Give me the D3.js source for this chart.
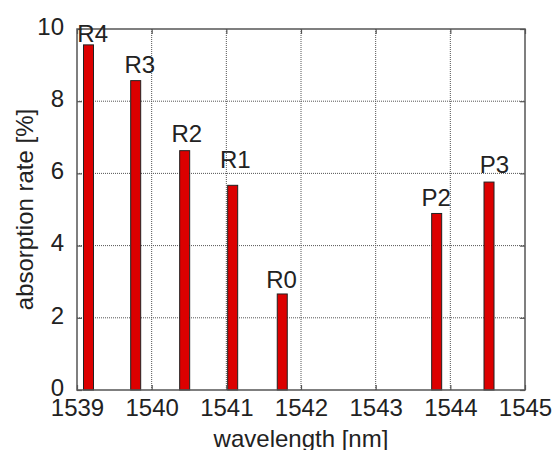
<!DOCTYPE html>
<html lang="en">
<head>
    <meta charset="UTF-8">
    <title>Absorption rate vs wavelength</title>
    <script src="https://d3js.org/d3.v7.min.js"></script>
    <style>
        body { margin: 0; background: #fff; }
        text { font-family: "Liberation Sans", Arial, sans-serif; fill: #222; }
        .grid line { stroke: #555; stroke-width: 1; stroke-dasharray: 1,1; }
    </style>
</head>
<body>
    <svg width="555" height="450"></svg>

    <script>
        // line names, centre wavelengths [nm] and absorption [%]
        const lineNames = ["R4", "R3", "R2", "R1", "R0", "P2", "P3"];
        const wavelengths = [1539.154, 1539.786, 1540.442, 1541.085, 1541.749, 1543.817, 1544.518];
        const absorption = [9.56, 8.57, 6.63, 5.67, 2.66, 4.89, 5.76];

        // where each text annotation sits (data coords)
        const labelWl = [1539.21, 1539.84, 1540.47, 1541.12, 1541.74, 1543.81, 1544.59];
        const labelVal = [9.64, 8.79, 6.88, 6.15, 2.83, 5.10, 6.01];

        const xTicks = [1539, 1540, 1541, 1542, 1543, 1544, 1545];
        const yTicks = [0, 2, 4, 6, 8, 10];

        const barWidth = 0.134; // nm
        const margin = { top: 29, right: 30, bottom: 60, left: 77 };
        const width = 555 - margin.left - margin.right;
        const height = 450 - margin.top - margin.bottom;

        const svg = d3.select("svg");
        const g = svg.append("g").attr("transform", `translate(${margin.left},${margin.top})`);

        const x = d3.scaleLinear().domain([1539, 1545]).range([0, width]);
        const y = d3.scaleLinear().domain([0, 10]).range([height, 0]);

        // dotted grid
        const grid = g.append("g").attr("class", "grid");
        grid.selectAll(".gx").data(xTicks.slice(1, -1)).enter().append("line")
            .attr("x1", d => x(d)).attr("x2", d => x(d))
            .attr("y1", 0).attr("y2", height);
        grid.selectAll(".gy").data(yTicks.slice(1, -1)).enter().append("line")
            .attr("x1", 0).attr("x2", width)
            .attr("y1", d => y(d)).attr("y2", d => y(d));

        // bars
        g.append("g").selectAll("rect")
            .data(wavelengths)
            .enter().append("rect")
            .attr("x", d => x(d - barWidth / 2))
            .attr("width", x(1539 + barWidth) - x(1539))
            .attr("y", (d, i) => y(absorption[i]))
            .attr("height", (d, i) => height - y(absorption[i]))
            .style("fill", "#dc0000")
            .style("stroke", "#222")
            .style("stroke-width", 1);

        // axes with inward ticks on all four sides
        const tickLen = 5;
        const axisColor = "#555";
        const axBottom = g.append("g").attr("transform", `translate(0,${height})`)
            .call(d3.axisBottom(x).tickValues(xTicks).tickFormat(d3.format("d"))
                .tickSizeInner(-tickLen).tickSizeOuter(0).tickPadding(9));
        const axLeft = g.append("g")
            .call(d3.axisLeft(y).tickValues(yTicks).tickFormat(d3.format("d"))
                .tickSizeInner(-tickLen).tickSizeOuter(0).tickPadding(13));
        const axTop = g.append("g")
            .call(d3.axisTop(x).tickValues(xTicks).tickFormat("").tickSizeInner(-tickLen).tickSizeOuter(0));
        const axRight = g.append("g").attr("transform", `translate(${width},0)`)
            .call(d3.axisRight(y).tickValues(yTicks).tickFormat("").tickSizeInner(-tickLen).tickSizeOuter(0));

        [axBottom, axLeft, axTop, axRight].forEach(a => {
            a.select(".domain").remove();
            a.selectAll("line").attr("stroke", axisColor).attr("stroke-width", 1.2);
            a.selectAll("text").style("font-size", "24px").style("fill", "#222");
        });
        axLeft.selectAll("text").attr("dy", "0.22em");

        // frame
        g.append("rect")
            .attr("width", width).attr("height", height)
            .style("fill", "none").style("stroke", axisColor).style("stroke-width", 1.5);

        // line labels
        g.append("g").selectAll("text")
            .data(lineNames)
            .enter().append("text")
            .attr("x", (d, i) => x(labelWl[i]))
            .attr("y", (d, i) => y(labelVal[i]))
            .attr("text-anchor", "middle")
            .style("font-size", "24px")
            .text(d => d);

        // axis titles
        g.append("text")
            .attr("x", width / 2).attr("y", height + 57)
            .attr("text-anchor", "middle")
            .style("font-size", "24px")
            .text("wavelength [nm]");

        g.append("text")
            .attr("transform", `translate(${-margin.left + 33},${height / 2}) rotate(-90)`)
            .attr("text-anchor", "middle")
            .style("font-size", "24px")
            .text("absorption rate [%]");
    </script>
</body>
</html>
